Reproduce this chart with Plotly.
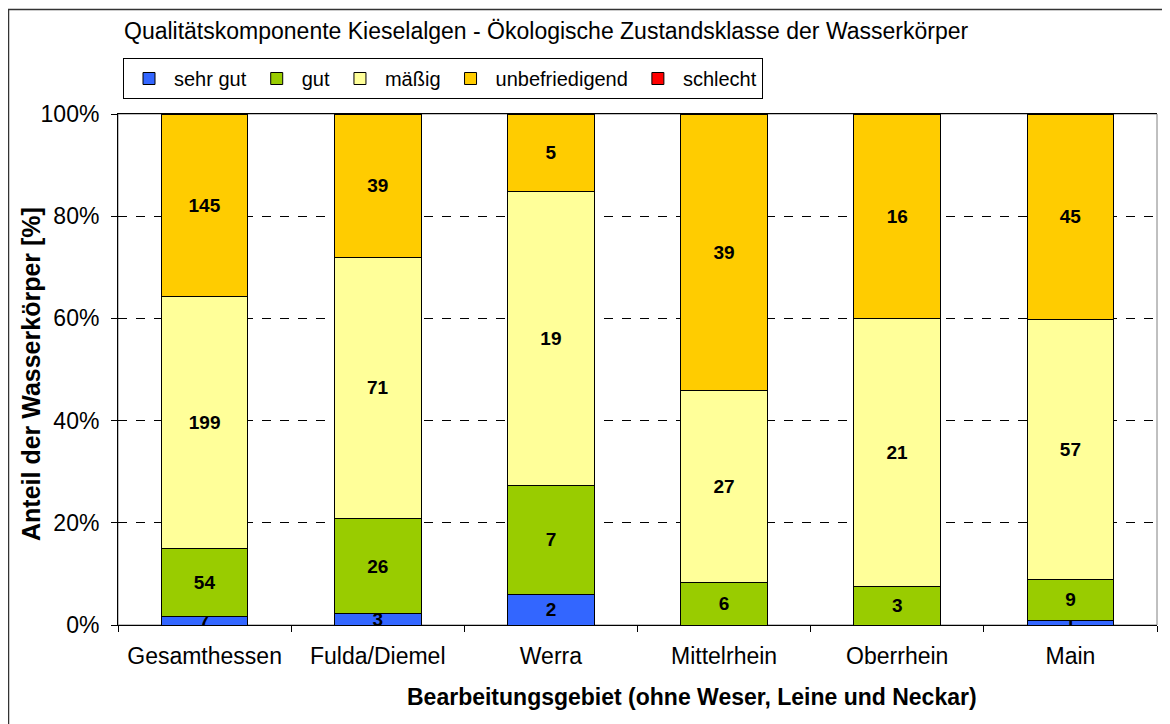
import plotly.graph_objects as go

categories = ["Gesamthessen", "Fulda/Diemel", "Werra", "Mittelrhein", "Oberrhein", "Main"]
series_names = ["sehr gut", "gut", "mäßig", "unbefriedigend", "schlecht"]
sehr_gut = [7, 3, 2, 0, 0, 1]
gut = [54, 26, 7, 6, 3, 9]
maessig = [199, 71, 19, 27, 21, 57]
unbefriedigend = [145, 39, 5, 39, 16, 45]
schlecht = [0, 0, 0, 0, 0, 0]
colors = ["#3366FF", "#99CC00", "#FFFF99", "#FFCC00", "#FF0000"]
y_ticks = [0, 20, 40, 60, 80, 100]
y_ticktext = ["0%", "20%", "40%", "60%", "80%", "100%"]

title_text = "Qualitätskomponente Kieselalgen - Ökologische Zustandsklasse der Wasserkörper"
x_title = "Bearbeitungsgebiet (ohne Weser, Leine und Neckar)"
y_title = "Anteil der Wasserkörper [%]"

FONT = "Liberation Sans, Arial, sans-serif"

fig = go.Figure()
for name, vals, col in zip(series_names, [sehr_gut, gut, maessig, unbefriedigend, schlecht], colors):
    fig.add_trace(go.Bar(
        name=name, x=categories, y=vals,
        marker=dict(color=col, line=dict(color="black", width=1)),
        text=[str(v) if v > 0 else "" for v in vals],
        texttemplate="%{text}",
        textposition="inside", insidetextanchor="middle",
        textangle=0, constraintext="none",
        textfont=dict(family=FONT, size=19, color="black", weight="bold"),
        hoverinfo="skip",
    ))

OFF = 8  # page body margin
W, H = 1170 - OFF, 724 - OFF
L = 118 - OFF
T = 114 - OFF
R = W - (1157 - OFF)
B = H - (625 - OFF)
pw = W - L - R
ph = H - T - B

def px_x(p):
    return (p - OFF - L) / pw

def px_y(p):
    return (H - B - (p - OFF)) / ph

fig.update_layout(
    width=W, height=H,
    barmode="stack", barnorm="percent", bargap=0.5,
    margin=dict(l=L, r=R, t=T, b=B),
    paper_bgcolor="white", plot_bgcolor="white",
    font=dict(family=FONT, size=20, color="black"),
    title=dict(text=title_text, x=(124 - OFF) / W, xanchor="left", xref="container",
               y=1 - (31 - OFF) / H, yanchor="middle", yref="container",
               font=dict(family=FONT, size=23, color="black")),
    legend=dict(orientation="h", x=px_x(123), xanchor="left", y=px_y(58), yanchor="top",
                bordercolor="black", borderwidth=1, bgcolor="white",
                font=dict(family=FONT, size=20, color="black"),
                itemwidth=40, traceorder="normal"),
    showlegend=True,
    xaxis=dict(showline=True, linecolor="black", linewidth=1, mirror=True,
               ticks="outside", ticklen=6, tickcolor="black", tickson="boundaries",
               tickfont=dict(family=FONT, size=23, color="black"),
               ticklabelstandoff=10, showgrid=False),
    yaxis=dict(range=[0, 100], tickmode="array", tickvals=y_ticks, ticktext=y_ticktext,
               showline=True, linecolor="black", linewidth=1,
               ticks="outside", ticklen=6, tickcolor="black",
               tickfont=dict(family=FONT, size=23, color="black"),
               ticklabelstandoff=7,
               showgrid=True, gridcolor="black", gridwidth=1, griddash="dash",
               zeroline=False),
    shapes=[
        dict(type="rect", xref="x domain", yref="y domain", x0=0, x1=1, y0=0, y1=1,
             line=dict(color="#808080", width=1), layer="below"),
        dict(type="rect", xref="paper", yref="paper", x0=px_x(8.5), x1=px_x(1180),
             y0=px_y(740), y1=px_y(9.5), line=dict(color="#333333", width=1.5), layer="below"),
    ],
    annotations=[
        dict(text=x_title, xref="paper", yref="paper", x=px_x(692), y=px_y(697),
             xanchor="center", yanchor="middle", showarrow=False,
             font=dict(family=FONT, size=23, color="black", weight="bold")),
        dict(text=y_title, xref="paper", yref="paper", x=px_x(31), y=px_y(374),
             xanchor="center", yanchor="middle", showarrow=False, textangle=-90,
             font=dict(family=FONT, size=25, color="black", weight="bold")),
    ],
)

fig.write_html("out.html")
